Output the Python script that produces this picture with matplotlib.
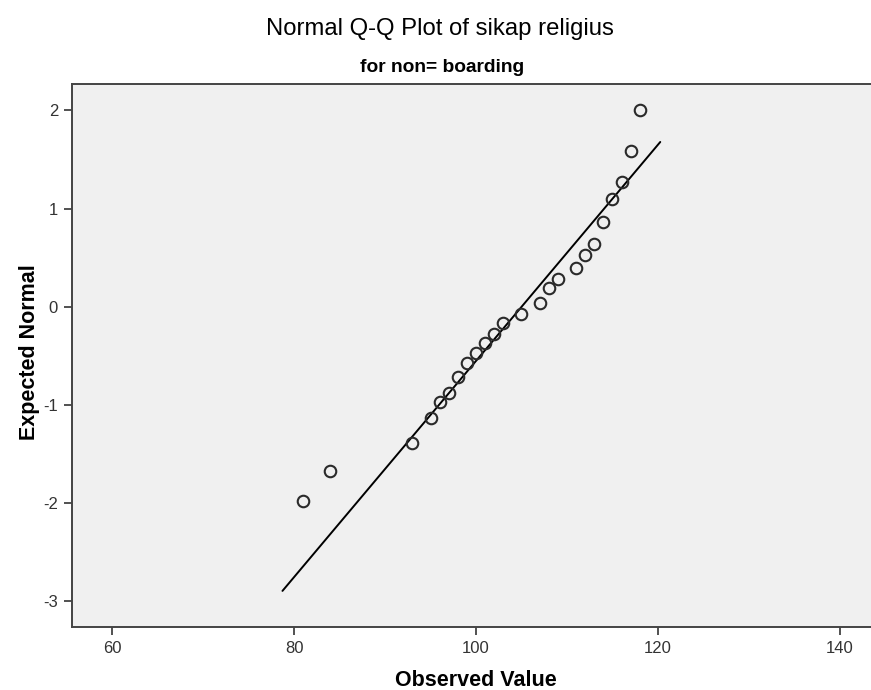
import matplotlib
matplotlib.use("Agg")
import matplotlib.pyplot as plt

observed = [81, 84, 93, 95, 96, 97, 98, 99, 100, 101, 102, 103, 105,
            107, 108, 109, 111, 112, 113, 114, 115, 116, 117, 118]
expected = [-1.98, -1.67, -1.39, -1.13, -0.97, -0.88, -0.72, -0.575, -0.476,
            -0.374, -0.282, -0.167, -0.077, 0.037, 0.187, 0.279, 0.397, 0.530,
            0.636, 0.860, 1.098, 1.268, 1.587, 2.005]

# reference line end points
line_x = [78.73, 120.25]
line_y = [-2.897, 1.679]

x_ticks = [60, 80, 100, 120, 140]
y_ticks = [-3, -2, -1, 0, 1, 2]

plt.rcParams['font.family'] = ['Liberation Sans', 'DejaVu Sans']
plt.rcParams['axes.unicode_minus'] = False

fig = plt.figure(figsize=(8.71, 6.9), dpi=100)
ax = fig.add_axes([72/871, 63/690, 808/871, 543/690])
ax.set_facecolor('#f0f0f0')

ax.plot(line_x, line_y, color='black', lw=1.4, solid_capstyle='round')
ax.plot(observed, expected, linestyle='none', marker='o', markersize=8.3,
        markerfacecolor='none', markeredgecolor='#2a2a2a', markeredgewidth=1.5)

ax.set_xlim(55.6, 144.4)
ax.set_ylim(-3.265, 2.27)
ax.set_xticks(x_ticks)
ax.set_yticks(y_ticks)
ax.tick_params(direction='out', length=6, width=1.2, color='#333333',
               labelsize=12, labelcolor='#333333', pad=4)
for s in ax.spines.values():
    s.set_color('#444444')
    s.set_linewidth(1.4)
ax.spines['right'].set_visible(False)

ax.set_xlabel('Observed Value', fontsize=15.5, fontweight='bold', va='center')
ax.set_ylabel('Expected Normal', fontsize=15.5, fontweight='bold', va='center')
ax.xaxis.set_label_coords(0.5, -0.099)
ax.yaxis.set_label_coords(-0.0525, 0.506)

fig.text(0.505, 1 - 35/690, 'Normal Q-Q Plot of sikap religius', ha='center',
         va='baseline', fontsize=17.2)
fig.text(0.508, 1 - 72/690, 'for non= boarding', ha='center', va='baseline',
         fontsize=13.8, fontweight='bold')

fig.savefig('out.png', dpi=100)
